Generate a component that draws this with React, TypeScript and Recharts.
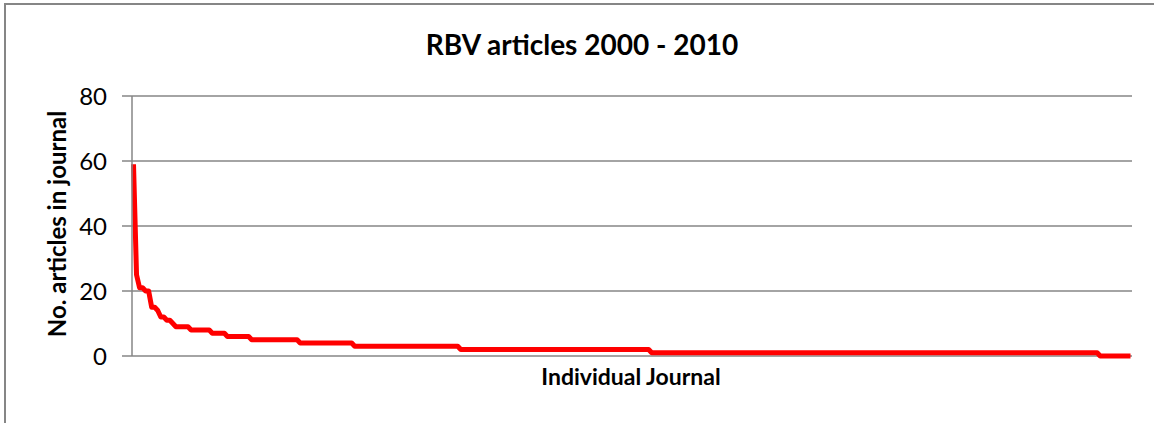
import React from 'react';
import { LineChart, Line, XAxis, YAxis, CartesianGrid } from 'recharts';

// number of articles per journal, and how many journals sit at each level
const articleLevels = [59, 25, 21, 20, 15, 14, 12, 11, 10, 9, 8, 7, 6, 5, 4, 3, 2, 1, 0];
const journalsAtLevel = [1, 1, 2, 2, 2, 1, 2, 2, 1, 5, 7, 5, 8, 16, 18, 35, 63, 148, 11];
const yTicks = [0, 20, 40, 60, 80];

const data: { journal: number; articles: number }[] = [];
articleLevels.forEach((articles, i) => {
  for (let k = 0; k < journalsAtLevel[i]; k++) {
    data.push({ journal: data.length + 1, articles });
  }
});

const GRAY = '#868686';
const FONT = 'Lato, "Open Sans", sans-serif';

export default function App() {
  return (
    <div
      style={{
        position: 'absolute',
        left: 0,
        top: 0,
        width: 1154,
        height: 423,
        overflow: 'hidden',
        background: '#fff',
        fontFamily: FONT,
      }}
    >
      {/* chart frame, only left and top edges show */}
      <div
        style={{
          position: 'absolute',
          left: 4,
          top: 3,
          width: 1200,
          height: 500,
          borderLeft: `2px solid ${GRAY}`,
          borderTop: `2px solid ${GRAY}`,
        }}
      />
      <div style={{ position: 'absolute', left: 0, top: 0 }}>
        <LineChart width={1154} height={423} data={data} margin={{ top: 96, right: 22, left: 0, bottom: 0 }}>
          <CartesianGrid vertical={false} stroke={GRAY} strokeWidth={1.5} />
          <XAxis
            dataKey="journal"
            type="category"
            height={67}
            tick={false}
            tickLine={false}
            axisLine={false}
            padding={{ left: 1.5, right: 1.5 }}
          />
          <YAxis
            width={132}
            domain={[0, 80]}
            ticks={yTicks}
            interval={0}
            tickSize={10}
            tickMargin={15}
            tickLine={{ stroke: GRAY, strokeWidth: 1.5 }}
            axisLine={{ stroke: GRAY, strokeWidth: 1.5 }}
            tick={{ fill: '#000', fontSize: 24, fontFamily: FONT }}
          />
          <Line
            type="linear"
            dataKey="articles"
            stroke="#ff0000"
            strokeWidth={5}
            strokeLinejoin="round"
            dot={false}
            isAnimationActive={false}
          />
        </LineChart>
      </div>
      <svg
        width={1154}
        height={423}
        style={{ position: 'absolute', left: 0, top: 0, pointerEvents: 'none' }}
      >
        <text x={582} y={55} textAnchor="middle" fontSize={28} fontWeight="bold" fontFamily={FONT} fill="#000">
          RBV articles 2000 - 2010
        </text>
        <text x={631} y={385} textAnchor="middle" fontSize={23} fontWeight="bold" fontFamily={FONT} fill="#000">
          Individual Journal
        </text>
        <text
          x={66}
          y={224}
          transform="rotate(-90, 66, 224)"
          textAnchor="middle"
          fontSize={24}
          fontWeight="bold"
          fontFamily={FONT}
          fill="#000"
        >
          No. articles in journal
        </text>
      </svg>
    </div>
  );
}
